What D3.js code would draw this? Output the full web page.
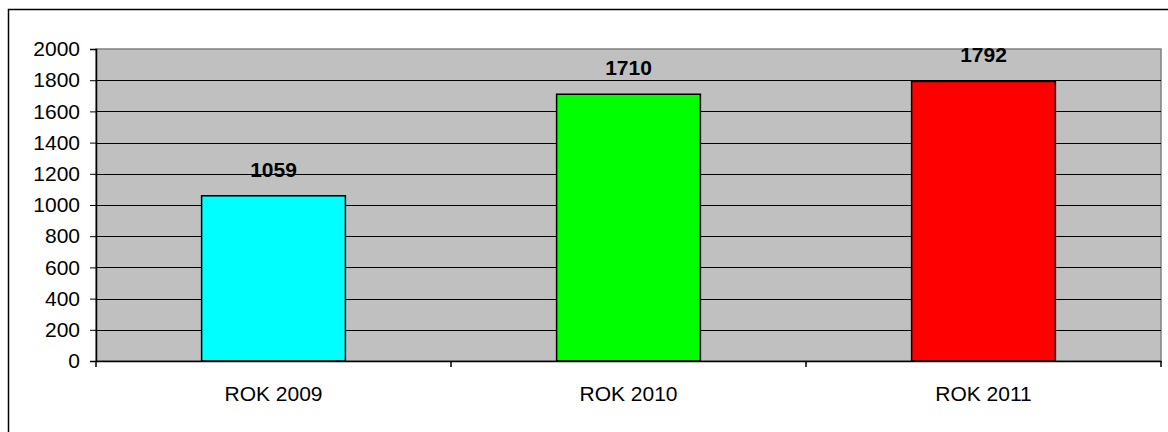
<!DOCTYPE html>
<html>
<head>
<meta charset="utf-8">
<script src="https://cdn.jsdelivr.net/npm/d3@7"></script>
<style>
  body { margin: 0; background: #fff; }
  text { font-family: Arial, "Liberation Sans", sans-serif; }
</style>
</head>
<body>
<div id="chart"></div>
<script>
// data
const categories = ["ROK 2009", "ROK 2010", "ROK 2011"];
const values = [1059, 1710, 1792];
const barColors = ["#00ffff", "#00ff00", "#ff0000"];
const yTicks = [0, 200, 400, 600, 800, 1000, 1200, 1400, 1600, 1800, 2000];

const width = 1168, height = 432;
const margin = { top: 49, right: 7, bottom: 71, left: 96 };

const svg = d3.select("#chart").append("svg")
    .attr("width", width)
    .attr("height", height);

// outer frame
svg.append("rect")
    .attr("x", 8.5).attr("y", 9.5)
    .attr("width", 1170).attr("height", 440)
    .attr("fill", "none")
    .attr("stroke", "#000")
    .attr("stroke-width", 1.5);

const x = d3.scaleBand()
    .domain(categories)
    .range([margin.left, width - margin.right])
    .paddingInner(0.595)
    .paddingOuter(0.2975);

const xGroup = d3.scaleBand()
    .domain(categories)
    .range([margin.left, width - margin.right]);

const y = d3.scaleLinear()
    .domain([0, 2000])
    .range([height - margin.bottom, margin.top]);

// plot area
svg.append("rect")
    .attr("x", margin.left)
    .attr("y", margin.top)
    .attr("width", width - margin.right - margin.left)
    .attr("height", y(0) - margin.top)
    .attr("fill", "#c0c0c0")
    .attr("stroke", "#808080")
    .attr("stroke-width", 1.5);

// gridlines
svg.append("g")
    .selectAll("line")
    .data(yTicks.filter(d => d > 0 && d < 2000))
    .enter()
    .append("line")
    .attr("x1", margin.left)
    .attr("x2", width - margin.right)
    .attr("y1", d => Math.round(y(d)) + 0.5)
    .attr("y2", d => Math.round(y(d)) + 0.5)
    .attr("stroke", "#000")
    .attr("stroke-width", 1);

// bars
svg.append("g")
    .selectAll("rect")
    .data(values)
    .enter()
    .append("rect")
    .attr("x", (d, i) => x(categories[i]))
    .attr("y", d => y(d))
    .attr("width", x.bandwidth())
    .attr("height", d => y(0) - y(d))
    .attr("fill", (d, i) => barColors[i])
    .attr("stroke", "#000")
    .attr("stroke-width", 1.5);

// value labels
svg.append("g")
    .selectAll("text")
    .data(values)
    .enter()
    .append("text")
    .attr("x", (d, i) => x(categories[i]) + x.bandwidth() / 2)
    .attr("y", d => y(d) - 19)
    .attr("text-anchor", "middle")
    .attr("font-size", 21)
    .attr("font-weight", "bold")
    .attr("fill", "#000")
    .text(d => d);

// y axis
const yAxis = d3.axisLeft(y)
    .tickValues(yTicks)
    .tickSize(6)
    .tickPadding(10)
    .tickFormat(d3.format("d"));

const gy = svg.append("g")
    .attr("transform", `translate(${margin.left},0)`)
    .call(yAxis);
gy.select(".domain").attr("stroke", "#000").attr("stroke-width", 1.5);
gy.selectAll(".tick line").attr("stroke", "#000");
gy.selectAll(".tick text")
    .attr("font-size", 21)
    .attr("font-family", "Arial, 'Liberation Sans', sans-serif")
    .attr("fill", "#000");

// x axis
const xAxis = d3.axisBottom(xGroup)
    .tickSize(0)
    .tickPadding(25);

const gx = svg.append("g")
    .attr("transform", `translate(0,${y(0)})`)
    .call(xAxis);
gx.select(".domain").attr("stroke", "#000").attr("stroke-width", 1.5);
gx.selectAll(".tick text")
    .attr("font-size", 21)
    .attr("font-family", "Arial, 'Liberation Sans', sans-serif")
    .attr("fill", "#000");

// category boundary ticks
gx.selectAll(".sep")
    .data(categories.concat(["end"]))
    .enter()
    .append("line")
    .attr("class", "sep")
    .attr("x1", (d, i) => i < categories.length ? xGroup(d) : width - margin.right)
    .attr("x2", (d, i) => i < categories.length ? xGroup(d) : width - margin.right)
    .attr("y1", 0)
    .attr("y2", 6)
    .attr("stroke", "#000")
    .attr("stroke-width", 1.5);
</script>
</body>
</html>
